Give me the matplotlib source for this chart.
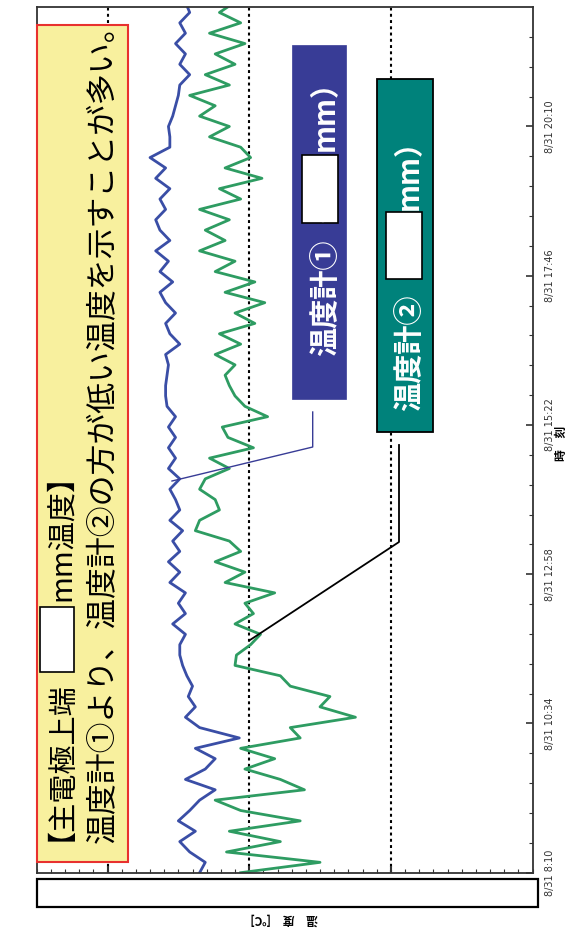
import numpy as np
import matplotlib
matplotlib.use('Agg')
import matplotlib.pyplot as plt
from matplotlib.patches import Rectangle
from matplotlib.lines import Line2D
from matplotlib.ticker import MultipleLocator, FixedLocator

plt.rcParams['font.family'] = ['Noto Sans CJK JP', 'DejaVu Sans']

# 10-minute records starting 8/31 8:10
interval_min = 10
temp1 = [23.5, 23.1, 24.2, 24.9, 23.8, 25.0, 24.2, 23.5, 22.4, 24.5,
         23.1, 22.4, 23.8, 20.7, 23.5, 24.5, 23.8, 24.3, 24.0, 24.4,
         24.7, 24.9, 24.9, 24.5, 25.4, 24.5, 25.0, 24.5, 25.6, 24.9,
         25.7, 24.9, 25.4, 24.7, 25.6, 24.9, 25.2, 25.6, 24.9, 25.7,
         25.2, 25.7, 25.2, 25.7, 25.2, 25.8, 25.9, 25.9, 25.8, 25.7,
         25.9, 24.9, 25.6, 25.9, 25.2, 25.9, 26.3, 25.4, 26.3, 25.7,
         26.6, 25.6, 26.3, 26.6, 25.9, 26.3, 25.6, 26.6, 25.9, 27.0,
         25.6, 25.6, 25.7, 25.4, 25.2, 25.0, 24.9, 24.2, 24.9, 24.5,
         25.2, 24.5, 24.9, 24.2, 24.5]
temp2 = [20.6, 15.0, 21.6, 17.8, 21.4, 16.4, 20.6, 22.4, 16.1, 17.8,
         20.3, 18.2, 20.6, 16.4, 17.1, 12.5, 15.0, 14.3, 17.1, 17.8,
         21.0, 20.9, 19.9, 19.2, 21.0, 19.7, 20.3, 18.2, 21.7, 20.3,
         22.4, 20.6, 21.4, 23.8, 23.5, 22.1, 22.4, 23.5, 23.1, 21.4,
         22.8, 19.7, 21.5, 21.9, 18.7, 20.3, 21.0, 21.4, 21.7, 21.0,
         22.4, 20.6, 22.1, 19.6, 21.0, 18.9, 21.7, 19.6, 22.4, 21.0,
         23.5, 21.7, 23.1, 21.4, 23.5, 20.6, 22.1, 19.1, 21.7, 19.9,
         20.6, 22.8, 21.4, 23.5, 22.4, 24.2, 21.4, 23.1, 21.0, 22.4,
         20.3, 22.8, 20.6, 22.1, 21.0]

tick_minutes = [0, 144, 288, 432, 576, 720]
tick_labels = ['8/31 8:10', '8/31 10:34', '8/31 12:58',
               '8/31 15:22', '8/31 17:46', '8/31 20:10']
grid_temps = [10, 20, 30]

BLUE = '#3a4ea6'
GREEN = '#2e9c62'
NAVY = '#383c96'
TEAL = '#00827b'

W, H = 574, 932
fig = plt.figure(figsize=(W / 100, H / 100), dpi=100)


def fx(x):
    return x / W


def fy(y):
    return 1 - y / H


def box(x0, y0, x1, y1, **kw):
    fig.add_artist(Rectangle((fx(x0), fy(y1)), fx(x1) - fx(x0), fy(y0) - fy(y1),
                             transform=fig.transFigure, **kw))


def vtext(x, y, s, **kw):
    # text running bottom -> top; x is the baseline, y the lower end
    fig.text(fx(x), fy(y), s, rotation=90, rotation_mode='anchor',
             ha='left', va='baseline', **kw)


ax = fig.add_axes([fx(36.7), fy(872.7), fx(532.5) - fx(36.7), fy(7.3) - fy(872.7)])
minutes = np.arange(len(temp1)) * interval_min
ax.plot(temp1, minutes, color=BLUE, lw=2.0)
ax.plot(temp2, minutes, color=GREEN, lw=2.0)
for t in grid_temps:
    ax.axvline(t, color='black', lw=1.5, ls=(0, (1.4, 1.6)), zorder=1)

ax.set_xlim(35, 0)
ax.set_ylim(0, 835)
ax.xaxis.set_major_locator(FixedLocator(grid_temps))
ax.xaxis.set_minor_locator(MultipleLocator(1))
ax.yaxis.set_major_locator(FixedLocator(tick_minutes))
ax.yaxis.set_minor_locator(MultipleLocator(28.8))
ax.set_yticklabels(tick_labels)
ax.yaxis.tick_right()
ax.tick_params(axis='x', which='both', direction='in', labelbottom=False,
               top=False, color='#333333')
ax.tick_params(axis='x', which='major', length=5, width=1.5)
ax.tick_params(axis='x', which='minor', length=3, width=0.8)
ax.tick_params(axis='y', which='both', direction='in', left=False, right=True,
               color='#333333')
ax.tick_params(axis='y', which='major', length=5, width=1.2, pad=9)
ax.tick_params(axis='y', which='minor', length=3, width=0.8)
for lab in ax.get_yticklabels():
    lab.set_rotation(90)
    lab.set_va('center')
    lab.set_fontsize(7)
    lab.set_color('#333333')
    lab.set_family(['Liberation Sans Narrow', 'DejaVu Sans'])
for s in ax.spines.values():
    s.set_linewidth(1.3)
    s.set_color('#333333')

# axis titles
fig.text(fx(284), fy(919), '温　度　[℃]', rotation=180, ha='center', va='center',
         fontsize=8.5, fontweight='bold')
fig.text(fx(561), fy(443), '時　刻', rotation=90, ha='center', va='center',
         fontsize=8.5, fontweight='bold')

# blank panel under the temperature axis
box(36.7, 879.3, 538.3, 906.7, facecolor='white', edgecolor='black', lw=1.6)

# comment box
box(37.3, 25, 128.3, 862, facecolor='#f8f09e', edgecolor='#e8312f', lw=1.5)
# the opening bracket has a wide left bearing, which Agg adds sideways on rotated text
vtext(55, 841, '【主電極上端', fontsize=21)
vtext(70, 601, 'mm温度】', fontsize=21)
box(40, 607, 74, 672, facecolor='white', edgecolor='black', lw=1.2)
vtext(112, 843, '温度計①より、温度計②の方が低い温度を示すことが多い。', fontsize=22.2)

# sensor labels
box(291.7, 45, 345.7, 399, facecolor=NAVY, edgecolor=NAVY, lw=0.5)
vtext(334, 356, '温度計①（', fontsize=21, fontweight='bold', color='white')
vtext(334, 151, 'mm）', fontsize=21, fontweight='bold', color='white')
box(302, 155, 338, 223, facecolor='white', edgecolor='black', lw=1.2)

box(376.7, 79.3, 433.3, 431.7, facecolor=TEAL, edgecolor='black', lw=1.3)
vtext(418, 411, '温度計②（', fontsize=21, fontweight='bold', color='white')
vtext(418, 210, 'mm）', fontsize=21, fontweight='bold', color='white')
box(386, 212, 422, 279, facecolor='white', edgecolor='black', lw=1.2)

# leader lines
fig.add_artist(Line2D([fx(312.7), fx(312.7), fx(172)], [fy(412), fy(447), fy(481)],
                      transform=fig.transFigure, color=NAVY, lw=1))
fig.add_artist(Line2D([fx(399), fx(399), fx(250)], [fy(445), fy(542), fy(640)],
                      transform=fig.transFigure, color='black', lw=1.3))

fig.savefig('out.png', dpi=100)
